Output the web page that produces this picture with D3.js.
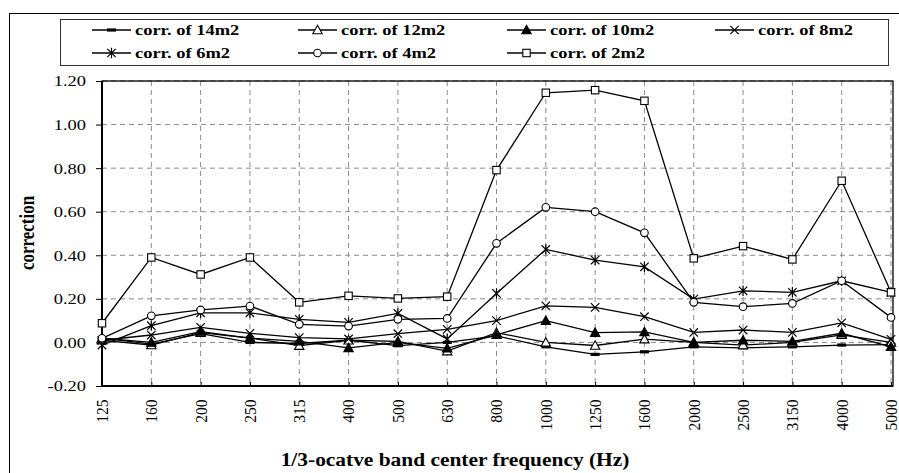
<!DOCTYPE html>
<html>
<head>
<meta charset="utf-8">
<style>
    body { margin: 0; background: #fff; }
    .y .domain, .x .domain { display: none; }
    .tick line { stroke: #000; }
</style>
</head>
<body>
<svg width="899" height="473"></svg>

<script src="https://cdn.jsdelivr.net/npm/d3@7"></script>
<script>
// 1/3-octave band centre frequencies
let freqs = ["125", "160", "200", "250", "315", "400", "500", "630", "800", "1000",
             "1250", "1600", "2000", "2500", "3150", "4000", "5000"];

let yTicks = [-0.2, 0, 0.2, 0.4, 0.6, 0.8, 1.0, 1.2];
let yTickLabels = ["-0.20", "0.00", "0.20", "0.40", "0.60", "0.80", "1.00", "1.20"];

let seriesNames = ["corr. of 14m2", "corr. of 12m2", "corr. of 10m2", "corr. of 8m2",
                   "corr. of 6m2", "corr. of 4m2", "corr. of 2m2"];
let markerTypes = ["dash", "triOpen", "triFill", "cross", "star", "circle", "square"];

let corr14 = [0.02, -0.008, 0.04, 0.00, -0.005, 0.01, -0.015, 0.00, 0.03, -0.02, -0.055, -0.043, -0.02, -0.025, -0.02, -0.012, -0.01];
let corr12 = [0.01, -0.012, 0.045, 0.02, -0.015, 0.01, 0.005, -0.04, 0.045, 0.0, -0.014, 0.015, 0.0, -0.012, 0.0, 0.035, 0.0];
let corr10 = [0.02, 0.0, 0.05, 0.02, 0.005, -0.025, 0.0, -0.027, 0.035, 0.10, 0.045, 0.048, 0.0, 0.01, 0.005, 0.042, -0.02];
let corr8  = [0.01, 0.034, 0.069, 0.042, 0.022, 0.016, 0.04, 0.06, 0.10, 0.168, 0.161, 0.118, 0.046, 0.057, 0.046, 0.09, 0.014];
let corr6  = [-0.012, 0.077, 0.136, 0.136, 0.106, 0.092, 0.133, 0.016, 0.225, 0.427, 0.378, 0.347, 0.199, 0.237, 0.23, 0.283, 0.23];
let corr4  = [0.019, 0.122, 0.149, 0.167, 0.083, 0.075, 0.106, 0.11, 0.455, 0.62, 0.60, 0.503, 0.184, 0.164, 0.179, 0.283, 0.115];
let corr2  = [0.088, 0.39, 0.312, 0.39, 0.184, 0.214, 0.202, 0.21, 0.791, 1.146, 1.158, 1.109, 0.386, 0.442, 0.381, 0.742, 0.23];

let allSeries = [corr14, corr12, corr10, corr8, corr6, corr4, corr2];

let svg = d3.select("svg");
let margin = { top: 81, right: 6, bottom: 87, left: 102 };
let plotRight = 893, plotBottom = 386;
let stretch = 1.19; // the original text is a little wider than plain Times

let x = d3.scalePoint().domain(freqs).range([margin.left, 891]);
let y = d3.scaleLinear().domain([-0.2, 1.2]).range([plotBottom, margin.top]);

// outer chart frame (right and bottom edges fall outside the picture)
svg.append("rect")
    .attr("x", 9.5).attr("y", 13.5)
    .attr("width", 900).attr("height", 470)
    .attr("fill", "none").attr("stroke", "#000").attr("stroke-width", 1);

// gridlines
svg.append("g")
    .selectAll("line")
    .data(yTicks.slice(1))
    .join("line")
    .attr("x1", margin.left).attr("x2", plotRight)
    .attr("y1", d => y(d)).attr("y2", d => y(d))
    .attr("stroke", "#8a8a8a").attr("stroke-dasharray", "5,4");

svg.append("g")
    .selectAll("line")
    .data(freqs.slice(1))
    .join("line")
    .attr("x1", d => x(d)).attr("x2", d => x(d))
    .attr("y1", margin.top).attr("y2", plotBottom)
    .attr("stroke", "#8a8a8a").attr("stroke-dasharray", "5,4");

// axes
let yAxis = d3.axisLeft(y)
    .tickValues(yTicks)
    .tickFormat((d, i) => yTickLabels[i])
    .tickSize(6)
    .tickPadding(7.5);

let yAxisG = svg.append("g")
    .attr("class", "y axis")
    .attr("transform", `translate(${margin.left},0)`)
    .call(yAxis)
    .attr("font-size", 15.5);
yAxisG.selectAll(".tick text").attr("transform", `scale(${stretch},1)`);

let xAxis = d3.axisBottom(x).tickSize(4).tickPadding(0);

let xAxisG = svg.append("g")
    .attr("class", "x axis")
    .attr("transform", `translate(0,${plotBottom})`)
    .call(xAxis)
    .attr("font-size", 15.5);

xAxisG.selectAll(".tick line").attr("y1", -4).attr("y2", 0);
xAxisG.selectAll(".tick text")
    .attr("transform", "rotate(-90) scale(1,1.06)")
    .attr("x", -13.5).attr("y", 0).attr("dy", "0.33em")
    .attr("text-anchor", "end");

// plot frame
svg.append("rect")
    .attr("x", margin.left).attr("y", margin.top)
    .attr("width", plotRight - margin.left).attr("height", plotBottom - margin.top)
    .attr("fill", "none").attr("stroke", "#000").attr("stroke-width", 1.3);
svg.append("line")
    .attr("x1", margin.left).attr("x2", margin.left)
    .attr("y1", margin.top).attr("y2", plotBottom)
    .attr("stroke", "#000").attr("stroke-width", 2);
svg.append("line")
    .attr("x1", margin.left).attr("x2", plotRight)
    .attr("y1", plotBottom).attr("y2", plotBottom)
    .attr("stroke", "#000").attr("stroke-width", 2);

// marker drawing
function marker(g, type, cx, cy) {
    let s = 4.2;
    if (type == "dash") {
        g.append("rect").attr("x", cx - 4.5).attr("y", cy - 1.6).attr("width", 9).attr("height", 3.2).attr("fill", "#000");
    } else if (type == "triOpen" || type == "triFill") {
        g.append("path")
            .attr("d", `M${cx},${cy - s - 0.5}L${cx + s + 0.5},${cy + s - 0.5}L${cx - s - 0.5},${cy + s - 0.5}Z`)
            .attr("fill", type == "triFill" ? "#000" : "#fff")
            .attr("stroke", "#000").attr("stroke-width", 1.1);
    } else if (type == "cross" || type == "star") {
        g.append("path")
            .attr("d", `M${cx - s},${cy - s}L${cx + s},${cy + s}M${cx - s},${cy + s}L${cx + s},${cy - s}` +
                (type == "star" ? `M${cx},${cy - s - 1}L${cx},${cy + s + 1}` : ""))
            .attr("stroke", "#000").attr("stroke-width", 1.2).attr("fill", "none");
    } else if (type == "circle") {
        g.append("circle").attr("cx", cx).attr("cy", cy).attr("r", 3.8)
            .attr("fill", "#fff").attr("stroke", "#000").attr("stroke-width", 1.1);
    } else if (type == "square") {
        g.append("rect").attr("x", cx - 3.7).attr("y", cy - 3.7).attr("width", 7.4).attr("height", 7.4)
            .attr("fill", "#fff").attr("stroke", "#000").attr("stroke-width", 1.1);
    }
}

let line = d3.line()
    .x((d, i) => x(freqs[i]))
    .y(d => y(d));

allSeries.forEach((vals, k) => {
    let g = svg.append("g");
    g.append("path")
        .attr("d", line(vals))
        .attr("fill", "none")
        .attr("stroke", "#000")
        .attr("stroke-width", 1.3);
    vals.forEach((v, i) => marker(g, markerTypes[k], x(freqs[i]), y(v)));
});

// legend
svg.append("rect")
    .attr("x", 60.5).attr("y", 19.5)
    .attr("width", 828).attr("height", 46)
    .attr("fill", "#fff").attr("stroke", "#333").attr("stroke-width", 1);

let legendX = [92, 298, 507, 715];
let legendY = [30, 53];

let legend = svg.append("g").attr("class", "legend");
seriesNames.forEach((name, k) => {
    let lx = legendX[k % 4], ly = legendY[Math.floor(k / 4)];
    legend.append("line")
        .attr("x1", lx).attr("x2", lx + 39)
        .attr("y1", ly).attr("y2", ly)
        .attr("stroke", "#000").attr("stroke-width", 1.3);
    marker(legend, markerTypes[k], lx + 19.5, ly);
    legend.append("text")
        .attr("transform", `translate(${lx + 43},${ly + 5}) scale(${stretch},1)`)
        .attr("font-size", 15.5)
        .attr("font-weight", "bold")
        .text(name);
});

// axis titles
svg.append("text")
    .attr("transform", `translate(455,466) scale(${stretch},1)`)
    .attr("text-anchor", "middle")
    .attr("font-size", 18)
    .attr("font-weight", "bold")
    .text("1/3-ocatve band center frequency (Hz)");

svg.append("text")
    .attr("transform", `translate(34,233) rotate(-90) scale(1,${stretch})`)
    .attr("text-anchor", "middle")
    .attr("font-size", 17)
    .attr("font-weight", "bold")
    .text("correction");

// serif everywhere
svg.selectAll("text")
    .style("font-family", "'Liberation Serif', 'DejaVu Serif', serif")
    .style("fill", "#000");
</script>
</body>
</html>
